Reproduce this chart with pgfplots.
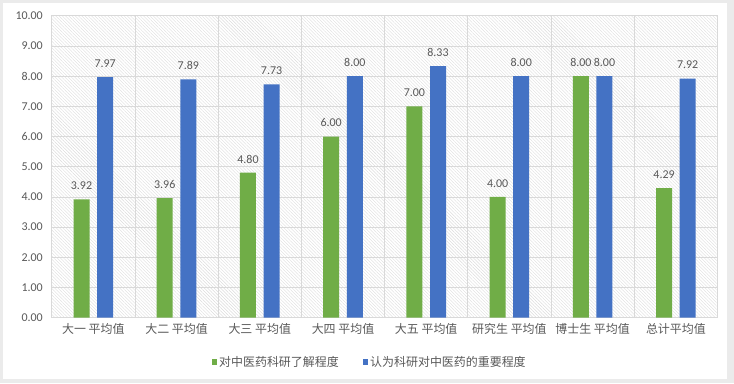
\documentclass[border=0pt]{standalone}
\usepackage{pgfplots}
\pgfplotsset{compat=1.18}
\usepackage{fontspec}
\setmainfont{Carlito}
\newfontfamily\cjk{Noto Sans CJK SC}
\usetikzlibrary{patterns.meta}
\definecolor{cgreen}{HTML}{70AD47}
\definecolor{cblue}{HTML}{4472C4}
\definecolor{ctext}{HTML}{595959}
\definecolor{cgrid}{HTML}{D9D9D9}
\definecolor{chatch}{HTML}{DCDCDC}
\pgfplotsset{sqlegend/.style={legend image code/.code={\fill[##1] (0bp,-2.75bp) rectangle (5.5bp,2.75bp);}}}
\begin{document}
\begin{tikzpicture}[x=1bp,y=1bp]
\fill[black!8] (0,0) rectangle (734,383);
\fill[white] (3,4) rectangle (727,380);
\useasboundingbox (0,0) rectangle (734,383);
\begin{axis}[
  at={(51.7bp,65.3bp)}, anchor=south west,
  scale only axis, width=665.8bp, height=302bp,
  ybar, bar width=16bp,
  xmin=-0.5, xmax=7.5, ymin=0, ymax=10,
  xtick={0,...,7},
  xticklabels={大一 平均值,大二 平均值,大三 平均值,大四 平均值,大五 平均值,研究生 平均值,博士生 平均值,总计平均值},
  minor xtick={-0.5,0.5,...,7.5},
  ytick={0,...,10},
  major tick length=0, minor tick length=0,
  xminorgrids, ymajorgrids,
  major grid style={draw=cgrid, line width=0.75bp},
  minor grid style={draw=cgrid, line width=0.75bp},
  axis line style={draw=cgrid, line width=0.75bp},
  axis background/.style={pattern={Lines[angle=-45,distance=2.3bp,line width=0.38bp]}, pattern color=chatch},
  /pgf/number format/assume math mode=true,
  y tick label style={/pgf/number format/fixed, /pgf/number format/fixed zerofill, /pgf/number format/precision=2, font=\fontsize{12}{14}\selectfont, text=ctext, xshift=-5.4bp},
  x tick label style={font=\cjk\fontsize{12}{14}\selectfont, text=ctext, yshift=-2bp},
  nodes near coords={\pgfmathprintnumber[fixed,fixed zerofill,precision=2,assume math mode=true]{\pgfplotspointmeta}},
  nodes near coords style={font=\fontsize{12}{14}\selectfont, text=ctext, anchor=south, yshift=6bp},
  legend style={at={(0.4776,-0.1467)}, anchor=center, draw=none, fill=none, legend columns=2,
    font=\cjk\fontsize{12}{14}\selectfont, text=ctext,
    /tikz/every even column/.append style={column sep=22bp}},
]
\addplot[fill=cgreen, draw=none, bar shift=-11.8bp, sqlegend] coordinates {
  (0,3.92) (1,3.96) (2,4.80) (3,6.00) (4,7.00) (5,4.00) (6,8.00) (7,4.29)};
\addlegendentry{对中医药科研了解程度}
\addplot[fill=cblue, draw=none, bar shift=11.8bp, sqlegend] coordinates {
  (0,7.97) (1,7.89) (2,7.73) (3,8.00) (4,8.33) (5,8.00) (6,8.00) (7,7.92)};
\addlegendentry{认为科研对中医药的重要程度}
\end{axis}
\end{tikzpicture}
\end{document}
